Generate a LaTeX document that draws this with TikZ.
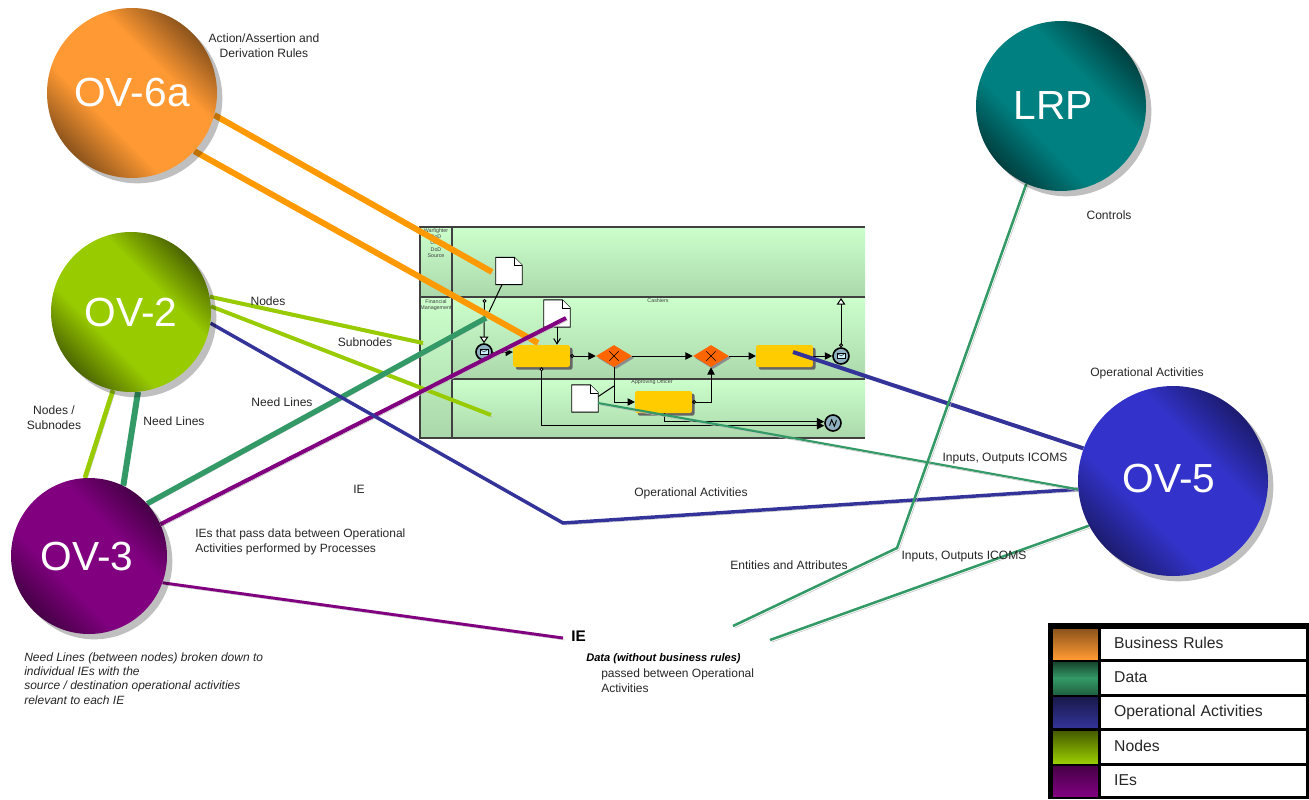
\documentclass[tikz,border=0pt]{standalone}
\usepackage{fontspec}
\setmainfont{Liberation Sans}
\usepackage{xcolor}
\usetikzlibrary{positioning, arrows.meta, shapes.geometric, shadows, backgrounds}

\definecolor{rulecol}{HTML}{FF9900}
\definecolor{rulelite}{HTML}{FF9933}
\definecolor{datacol}{HTML}{339966}
\definecolor{activcol}{HTML}{333399}
\definecolor{nodecol}{HTML}{99CC00}
\definecolor{iecol}{HTML}{800080}
\definecolor{ovfive}{HTML}{3333CC}
\definecolor{lanelite}{HTML}{CCFFCC}
\definecolor{lanedark}{HTML}{ABD8AB}
\definecolor{taskcol}{HTML}{FFCC00}
\definecolor{gatecol}{HTML}{FF6600}
\definecolor{eventcol}{HTML}{8FB0BF}
\colorlet{ballcol}{black}
\colorlet{ballrim}{black}

\pgfdeclareverticalshading[ballcol,ballrim]{ballshade}{100bp}{
  color(0bp)=(ballrim); color(25bp)=(ballrim); color(39bp)=(ballcol);
  color(61bp)=(ballcol); color(75bp)=(ballrim); color(100bp)=(ballrim)}

\newcommand{\docshape}[1]{%
  \draw[fill=white, line width=0.7pt] (#1.north west) -- ([xshift=-6pt]#1.north east) -- ([yshift=-6pt]#1.north east) -- (#1.south east) -- (#1.south west) -- cycle;
  \draw[fill=white, line width=0.5pt] ([xshift=-6pt]#1.north east) -- ([xshift=-6pt,yshift=-6pt]#1.north east) -- ([yshift=-6pt]#1.north east);
}

\begin{document}
\begin{tikzpicture}[
    x=0.75pt, y=-0.75pt,
    ball/.style 2 args={circle, inner sep=0pt, text=white,
        /utils/exec={\colorlet{ballcol}{#1}\colorlet{ballrim}{#1!#2!black}},
        shading=ballshade, shading angle=-45,
        font=\fontsize{30.5}{33}\selectfont,
        general shadow={fill=black, opacity=0.25, shadow xshift=4pt, shadow yshift=-4pt}},
    lbl/.style={font=\fontsize{9.05}{11.2}\selectfont, inner sep=0pt, align=center, text=black!85},
    note/.style={font=\fontsize{9}{11.2}\selectfont, inner sep=0pt, align=left, text=black!85},
    tinylbl/.style={font=\fontsize{4}{4.7}\selectfont, inner sep=0pt, align=center, text=black!75},
    link/.style={preaction={draw=black!25, transform canvas={xshift=1.5pt, yshift=-1.5pt}}},
    lane/.style={top color=lanelite, bottom color=lanedark},
    laneline/.style={draw=black!75, line width=0.8pt},
    task/.style={rectangle, rounded corners=1.5pt, fill=taskcol, minimum width=42.5pt, minimum height=16.5pt, inner sep=0pt,
        general shadow={fill=black!60, shadow xshift=2pt, shadow yshift=-2pt}},
    gate/.style={diamond, aspect=1.64, fill=gatecol, minimum width=27pt, minimum height=16.5pt, inner sep=0pt,
        general shadow={fill=black!45, shadow xshift=1.5pt, shadow yshift=-1.5pt},
        path picture={\draw[line width=0.5pt] ([shift={(-3.5pt,-3.5pt)}]path picture bounding box.center) -- ([shift={(3.5pt,3.5pt)}]path picture bounding box.center);
            \draw[line width=0.5pt] ([shift={(-3.5pt,3.5pt)}]path picture bounding box.center) -- ([shift={(3.5pt,-3.5pt)}]path picture bounding box.center);}},
    event/.style={circle, draw=black, line width=1.2pt, fill=eventcol, minimum size=12pt, inner sep=0pt},
    msgevent/.style={event, path picture={\draw[fill=white!80!cyan, line width=0.3pt] ([shift={(-3pt,-2pt)}]path picture bounding box.center) rectangle ([shift={(3pt,2pt)}]path picture bounding box.center);
            \draw[line width=0.3pt] ([shift={(-3pt,2pt)}]path picture bounding box.center) -- (path picture bounding box.center) -- ([shift={(3pt,2pt)}]path picture bounding box.center);}},
    linkevent/.style={event, path picture={\draw[line width=0.7pt] ([shift={(-2.6pt,-2pt)}]path picture bounding box.center) -- ([shift={(-1pt,2.4pt)}]path picture bounding box.center) -- ([shift={(1pt,-2.4pt)}]path picture bounding box.center) -- ([shift={(2.6pt,2pt)}]path picture bounding box.center);}},
    docbox/.style={rectangle, minimum width=19.5pt, minimum height=20pt, inner sep=0pt},
    flow/.style={-{Triangle[length=5.5pt,width=5.5pt]}, line width=0.75pt},
    outflow/.style={{Circle[open,fill=white,length=3pt,width=3pt]}-{Triangle[length=5.5pt,width=5.5pt]}, line width=0.75pt},
    msgflow/.style={{Circle[open,fill=white,length=3pt,width=3pt]}-{Triangle[open,fill=white,length=5pt,width=6.5pt]}, line width=0.75pt},
    swatch/.style={rectangle, minimum width=33.7pt, inner sep=0pt},
    legendlbl/.style={rectangle, fill=white, minimum width=153.7pt, inner sep=0pt, text=black!85,
        font=\fontsize{11.8}{13}\selectfont, align=left, text width=134pt, text height=8.5pt, text depth=2pt}
]
    \useasboundingbox (0,0) rectangle (1309,799);

    % Views
    \node[ball={rulelite}{55}, minimum size=127.5pt] (ov6a) at (132,93) {OV-6a};
    \node[ball={nodecol}{50}, minimum size=120pt] (ov2) at (131,312) {OV-2};
    \node[ball={iecol}{55}, minimum size=117pt] (ov3) at (89,556) {OV-3\kern3pt};
    \node[ball={ovfive}{55}, minimum size=142.5pt] (ov5) at (1173,481) {\raisebox{4pt}{OV-5}\kern6pt};
    \node[ball={teal}{50}, minimum size=127.5pt] (lrp) at (1061,106) {LRP\kern12pt};

    \begin{pgfonlayer}{background}
    % Swim lanes
    \path[lane] (420,227) rectangle (452,297);
    \path[lane] (420,297) rectangle (452,438);
    \path[lane] (452,227) rectangle (865,297);
    \path[lane] (452,297) rectangle (865,379);
    \path[lane] (452,379) rectangle (865,438);
    \draw[laneline] (865,227) -- (420,227) -- (420,438) -- (865,438);
    \draw[laneline] (452,227) -- (452,438);
    \draw[laneline] (420,297) -- (865,297);
    \draw[laneline, line width=1pt] (452,379) -- (865,379);
    \node[tinylbl] (lanea) at (436,243) {Warfighter\\DoD\\User\\DoD\\Source};
    \node[tinylbl] (laneb) at (436,305) {Financial\\Management};
    \node[tinylbl] (lanec) at (658,300.5) {Cashiers};
    \node[tinylbl] (laned) at (652,382.5) {Approving Officer};

    % Process
    \node[docbox] (doca) at (509,271) {}; \docshape{doca}
    \node[docbox] (docb) at (557,313.5) {}; \docshape{docb}
    \node[docbox] (docc) at (585,398.5) {}; \docshape{docc}
    \node[task] (taska) at (541.5,356) {};
    \node[task] (taskb) at (663.5,402) {};
    \node[task] (taskc) at (784.5,356) {};
    \node[gate] (gatea) at (614,356) {};
    \node[gate] (gateb) at (711,356) {};
    \node[msgevent] (startev) at (484,352) {};
    \node[msgevent] (endev) at (841,356) {};
    \node[linkevent] (linkev) at (833,423) {};
    \coordinate (lanetop) at (484.5,299);
    \coordinate (lanetopb) at (841,298);

    \draw[msgflow] (lanetop) -- (startev.north);
    \draw[line width=0.75pt] (doca.south) ++(-7,0) -- (489,312);
    \draw[msgflow] (endev.north) -- (lanetopb);
    \draw[-{Straight Barb[length=4pt,width=5pt]}, line width=0.75pt] (docb.south) -- (docb.south |- taska.north);
    \draw[flow] (startev.east) ++(0,1) -- (taska.west |- startev.east);
    \draw[outflow] (taska.east) -- (gatea.west);
    \draw[flow] (gatea.east) -- (gateb.west);
    \draw[flow] (gateb.east) -- (taskc.west);
    \draw[flow] (taskc.east) -- (endev.west);
    \draw[flow] (gatea.south) |- (taskb.west);
    \draw[line width=0.75pt] (docc.east) ++(0,-2) -- (614,386);
    \draw[outflow] (taskb.east) -| (gateb.south);
    \draw[outflow] (taska.south) |- ([yshift=-2pt]linkev.west);
    \draw[outflow] (taskb.south) ++(1,0) |- ([yshift=1pt]linkev.west);

    % Links
    \coordinate (rulea) at (492,272);
    \coordinate (ruleb) at (538,343);
    \coordinate (subnodea) at (423,343);
    \coordinate (subnodeb) at (491,415);
    \coordinate (needend) at (486,318);
    \coordinate (ieend) at (566,318);
    \coordinate (iecorner) at (563,638);
    \coordinate (activbend) at (563,523);
    \coordinate (activend) at (793,352);
    \coordinate (dataend) at (598,403);
    \coordinate (lrpbend) at (897,548);
    \coordinate (lrpend) at (733,626);
    \coordinate (inputend) at (770,640);

    \draw[link, rulecol, line width=4.5pt] (ov6a.-15.5) -- (rulea);
    \draw[link, rulecol, line width=4.5pt] (ov6a.-43.6) -- (ruleb);
    \draw[link, nodecol, line width=3pt] (ov2.11) -- (subnodea);
    \draw[link, nodecol, line width=3pt] (ov2.4) -- (subnodeb);
    \draw[link, nodecol, line width=3.5pt] (ov2.-103) -- (ov3.93);
    \draw[link, datacol, line width=4.5pt] (ov2.-85.6) -- (ov3.64);
    \draw[link, datacol, line width=4pt] (ov3.42) -- (needend);
    \draw[link, iecol, line width=3pt] (ov3.24) -- (ieend);
    \draw[link, iecol, line width=2.2pt] (ov3.-20) -- (iecorner);
    \draw[link, activcol, line width=2.6pt] (ov2.-8) -- (activbend) -- (ov5.185.5);
    \draw[link, activcol, line width=3pt] (activend) -- (ov5.160.5);
    \draw[link, datacol, line width=1.6pt] (dataend) -- (ov5.185);
    \draw[link, datacol, line width=1.9pt] (lrp.246.7) -- (lrpbend) -- (lrpend);
    \draw[link, datacol, line width=1.9pt] (ov5.208) -- (inputend);
    \end{pgfonlayer}

    % Labels
    \node[lbl] (lblrules) at (264,46) {Action/Assertion and\\Derivation Rules};
    \node[lbl] (lblctrl) at (1109,215.5) {Controls};
    \node[lbl] (lblnodes) at (268,301.5) {Nodes};
    \node[lbl] (lblsub) at (365,342.5) {Subnodes};
    \node[lbl] (lblneeda) at (282,402.5) {Need Lines};
    \node[lbl] (lblnsub) at (54,417.5) {Nodes /\\Subnodes};
    \node[lbl] (lblneedb) at (174,421) {Need Lines};
    \node[lbl] (lblie) at (359,489) {IE};
    \node[note, anchor=west] (lblpass) at (195,541.5) {IEs that pass data between Operational\\Activities performed by Processes};
    \node[lbl] (lblopa) at (691,493.5) {Operational Activities};
    \node[lbl] (lblopb) at (1147,373.5) {Operational Activities};
    \node[lbl] (lblinpa) at (1005,458.5) {Inputs, Outputs ICOMS};
    \node[lbl] (lblinpb) at (964,556.5) {Inputs, Outputs ICOMS};
    \node[lbl] (lblent) at (789,565.5) {Entities and Attributes};
    \node[note, anchor=west, font=\fontsize{11.5}{13}\bfseries\selectfont, text=black] (lblbig) at (571,636) {IE};
    \node[note, anchor=west, font=\fontsize{8.3}{11}\bfseries\itshape\selectfont, text=black] (lbldata) at (586,658.5) {Data (without business rules)};
    \node[note, anchor=west] (lblpassed) at (601,680.5) {passed between Operational\\Activities};
    \node[note, anchor=west, font=\fontsize{9}{10.8}\itshape\selectfont] (lblbroken) at (24,678.5) {Need Lines (between nodes) broken down to\\individual IEs with the\\source / destination operational activities\\relevant to each IE};

    % Legend
    \node[rectangle, fill=black, minimum width=196.5pt, minimum height=132pt, inner sep=0pt] (legend) at (1178.5,711) {};
    \node[swatch, minimum height=22.5pt, top color=rulelite!55!black, bottom color=rulelite] (swa) at (1075.5,644) {};
    \node[swatch, minimum height=24pt, top color=datacol!45!black, bottom color=datacol!65!black, middle color=datacol] (swb) at (1075.5,678) {};
    \node[swatch, minimum height=23pt, top color=activcol!50!black, bottom color=activcol] (swc) at (1075.5,712.5) {};
    \node[swatch, minimum height=24pt, top color=nodecol!45!black, bottom color=nodecol] (swd) at (1075.5,747) {};
    \node[swatch, minimum height=22.5pt, top color=iecol!55!black, bottom color=iecol] (swe) at (1075.5,781) {};
    \node[legendlbl, minimum height=22.5pt] (lga) at (1203.5,644) {Business Rules};
    \node[legendlbl, minimum height=24pt] (lgb) at (1203.5,678) {Data};
    \node[legendlbl, minimum height=23pt] (lgc) at (1203.5,712.5) {Operational Activities};
    \node[legendlbl, minimum height=24pt] (lgd) at (1203.5,747) {Nodes};
    \node[legendlbl, minimum height=22.5pt] (lge) at (1203.5,781) {IEs};
\end{tikzpicture}
\end{document}
